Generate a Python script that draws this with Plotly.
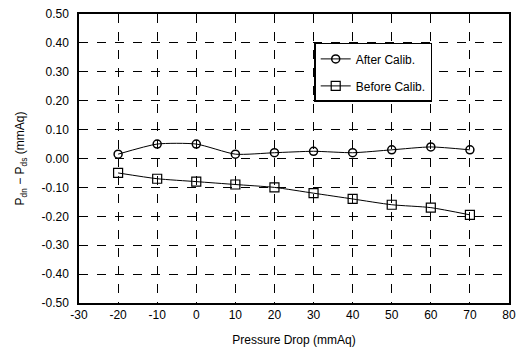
import plotly.graph_objects as go

pressure_drop = [-20, -10, 0, 10, 20, 30, 40, 50, 60, 70]
after_calib = [0.015, 0.05, 0.05, 0.015, 0.02, 0.025, 0.02, 0.03, 0.04, 0.03]
before_calib = [-0.05, -0.07, -0.08, -0.09, -0.10, -0.12, -0.14, -0.16, -0.17, -0.195]

x_ticks = [-30, -20, -10, 0, 10, 20, 30, 40, 50, 60, 70, 80]
y_ticks = [0.5, 0.4, 0.3, 0.2, 0.1, 0.0, -0.1, -0.2, -0.3, -0.4, -0.5]
y_ticktext = ["%.2f" % v if v >= 0 else "-%.2f" % abs(v) for v in y_ticks]

font_family = "Liberation Sans, Arial, sans-serif"

fig = go.Figure()
fig.add_trace(go.Scatter(
    x=pressure_drop, y=after_calib, name="After Calib.", legendgroup="a",
    mode="lines+markers", line=dict(color="black", width=1, shape="spline", smoothing=0.6),
    marker=dict(symbol="circle-open", size=8, color="black", line=dict(width=1.5)),
))
fig.add_trace(go.Scatter(
    x=pressure_drop, y=before_calib, name="Before Calib.", legendgroup="b",
    mode="lines+markers", line=dict(color="black", width=1, shape="spline", smoothing=0.6),
    marker=dict(symbol="square-open", size=9, color="black", line=dict(width=1.2)),
))

fig.update_layout(
    width=523, height=354,
    margin=dict(l=79, r=7, t=9, b=51),
    paper_bgcolor="white", plot_bgcolor="white",
    font=dict(family=font_family, size=12, color="black"),
    showlegend=True,
    legend=dict(
        x=0.547, y=0.90, xanchor="left", yanchor="top",
        bgcolor="white", bordercolor="black", borderwidth=1.5,
        traceorder="grouped", tracegroupgap=8, itemwidth=30,
        font=dict(size=12),
    ),
    xaxis=dict(
        range=[-30, 80], tickvals=x_ticks, ticktext=[str(v) for v in x_ticks],
        showgrid=True, gridcolor="black", griddash="dash", gridwidth=1,
        zeroline=False, showline=True, linecolor="black", linewidth=1.5, mirror=True,
        ticks="", title=dict(text="Pressure Drop (mmAq)", standoff=14, font=dict(size=12)),
    ),
    yaxis=dict(
        range=[-0.5, 0.5], tickvals=y_ticks, ticktext=y_ticktext,
        showgrid=True, gridcolor="black", griddash="dash", gridwidth=1,
        zeroline=False, showline=True, linecolor="black", linewidth=1.5, mirror=True,
        ticks="", ticklabelstandoff=6,
        title=dict(text="P<sub>dn</sub> − P<sub>ds</sub> (mmAq)", standoff=14, font=dict(size=12)),
    ),
)

fig.write_html("out.html")
